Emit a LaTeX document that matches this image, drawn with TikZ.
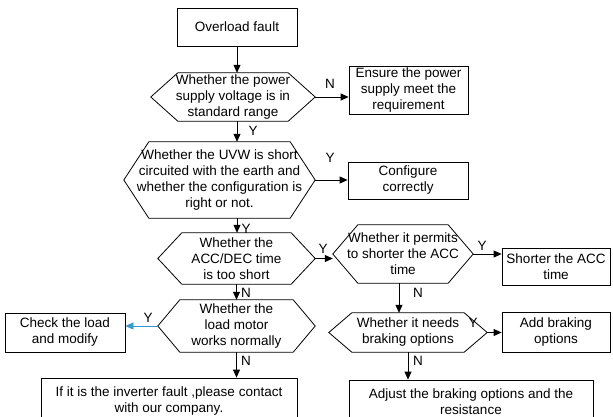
\documentclass[tikz,border=0pt]{standalone}
\usepackage{fontspec}
\setmainfont{Liberation Sans}
\usetikzlibrary{arrows.meta,calc}
\definecolor{linkblue}{RGB}{51,153,204}
\tikzset{
 base/.style={inner sep=0pt, align=center, font=\fontsize{13.5}{16}\selectfont},
 box/.style={base, draw, line width=0.8pt},
 hexn/.style={base},
 hexline/.style={line width=0.8pt},
 arr/.style={line width=0.8pt, -{Triangle[length=8pt,width=7pt]}},
 lbl/.style={font=\fontsize{13.5}{16}\selectfont, inner sep=0pt},
}
\newcommand{\hexdraw}[2]{\draw[hexline] (#1.west) -- ([xshift=#2pt]#1.north west) -- ([xshift=-#2pt]#1.north east) -- (#1.east) -- ([xshift=-#2pt]#1.south east) -- ([xshift=#2pt]#1.south west) -- cycle;}
\begin{document}
\begin{tikzpicture}[x=1pt,y=-1pt]
\useasboundingbox (0,0) rectangle (613,417);
\clip (0,0) rectangle (613,417);

\node[box, minimum width=120, minimum height=38] (over) at (237,27) {Overload fault};

\node[hexn, minimum width=164, minimum height=48] (hex1) at (233,97) {Whether the power\\supply voltage is in\\standard range};
\hexdraw{hex1}{27}
\node[box, minimum width=119, minimum height=48] (ensure) at (408.5,90) {Ensure the power\\supply meet the\\requirement};

\node[hexn, minimum width=191, minimum height=76] (hex2) at (219.5,180) {Whether the UVW is short\\circuited with the earth and\\whether the configuration is\\right or not.};
\hexdraw{hex2}{25}
\node[box, minimum width=120, minimum height=37] (config) at (408,180.5) {Configure\\correctly};

\node[hexn, minimum width=157, minimum height=51] (hex3) at (236.5,258.5) {Whether the\\ACC/DEC time\\is too short};
\hexdraw{hex3}{24}
\node[hexn, minimum width=140, minimum height=58] (hex4) at (403,254) {Whether it permits\\to shorter the ACC\\time};
\hexdraw{hex4}{25}
\node[box, minimum width=108, minimum height=37] (shorter) at (556,266.5) {Shorter the ACC\\time};

\node[hexn, minimum width=158, minimum height=39] (hex5) at (408,332.5) {Whether it needs\\braking options};
\hexdraw{hex5}{23}
\node[box, minimum width=108, minimum height=40] (addbrk) at (556,332) {Add braking\\options};
\node[box, minimum width=244, minimum height=43] (adjust) at (471,401.5) {Adjust the braking options and the\\resistance};

\node[hexn, minimum width=157, minimum height=52] (hex6) at (236.5,326) {Whether the\\load motor\\works normally};
\hexdraw{hex6}{22}
\node[box, minimum width=120, minimum height=39] (check) at (65,332.5) {Check the load\\and modify};
\node[box, minimum width=256, minimum height=47] (botl) at (169,401.5) {If it is the inverter fault ,please contact\\with our company.};

\coordinate (xa) at (399,283);

\draw[arr] (over.south) -- (over.south |- hex1.north);
\draw[arr] (hex1.east) -- (hex1.east -| ensure.west);
\draw[arr] (over.south |- hex1.south) -- (over.south |- hex2.north);
\draw[arr] (hex2.east) -- (hex2.east -| config.west);
\draw[arr] (over.south |- hex2.south) -- (over.south |- hex3.north);
\draw[arr] (hex3.east) -- (hex3.east -| hex4.west);
\draw[arr] (hex4.east) -- (hex4.east -| shorter.west);
\draw[arr] (xa) -- (xa |- hex5.north);
\draw[arr] (hex5.east) -- (hex5.east -| addbrk.west);
\draw[arr] (hex5.south) -- (hex5.south |- adjust.north);
\draw[arr] (hex3.south) -- (hex3.south |- hex6.north);
\draw[arr, linkblue] (hex6.west) -- (hex6.west -| check.east);
\draw[arr] (hex6.south) -- (hex6.south |- botl.north);

\node[lbl] (l1) at (330,84) {N};
\node[lbl] (l2) at (253,131) {Y};
\node[lbl] (l3) at (330,158) {Y};
\node[lbl] (l4) at (246,229) {Y};
\node[lbl] (l5) at (323,249) {Y};
\node[lbl] (l6) at (482,246) {Y};
\node[lbl] (l7) at (418,293) {N};
\node[lbl] (l8) at (473,323) {Y};
\node[lbl] (l9) at (246,293) {N};
\node[lbl] (l10) at (148,318) {Y};
\node[lbl] (l11) at (246,361) {N};
\node[lbl] (l12) at (418,361) {N};
\end{tikzpicture}
\end{document}
